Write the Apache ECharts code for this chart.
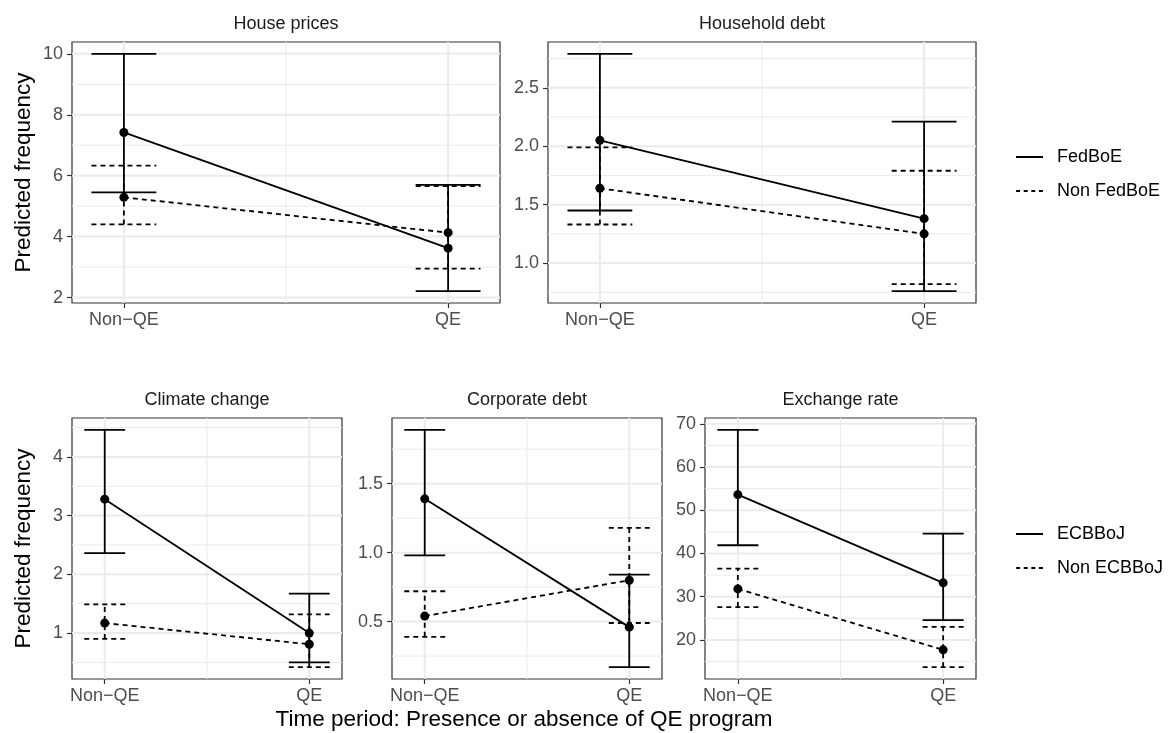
<!DOCTYPE html>
<html><head><meta charset="utf-8">
<script src="https://cdn.jsdelivr.net/npm/echarts@6/dist/echarts.min.js"></script>
<style>html,body{margin:0;padding:0;background:#fff}#c{width:1168px;height:733px}</style>
</head><body><div id="c"></div>
<script>
// ---- data ----
const periods = ['Non\u2212QE', 'QE'];
const periodPos = [1, 2];
const panelTitles = ['House prices', 'Household debt', 'Climate change', 'Corporate debt', 'Exchange rate'];
const topGroups = ['FedBoE', 'Non FedBoE'];
const bottomGroups = ['ECBBoJ', 'Non ECBBoJ'];

// each row: [estimate, lower, upper] for Non-QE then QE
const housePricesFed      = [[7.42, 5.45, 10.00], [3.62, 2.21, 5.70]];
const housePricesNonFed   = [[5.29, 4.40, 6.33],  [4.13, 2.95, 5.66]];
const householdDebtFed    = [[2.05, 1.45, 2.79],  [1.38, 0.76, 2.21]];
const householdDebtNonFed = [[1.64, 1.33, 1.99],  [1.25, 0.82, 1.79]];
const climateEcb          = [[3.28, 2.36, 4.46],  [1.00, 0.50, 1.67]];
const climateNonEcb       = [[1.17, 0.90, 1.49],  [0.81, 0.42, 1.32]];
const corporateEcb        = [[1.39, 0.98, 1.89],  [0.46, 0.17, 0.84]];
const corporateNonEcb     = [[0.54, 0.39, 0.72],  [0.80, 0.49, 1.18]];
const exchangeEcb         = [[53.6, 41.9, 68.6],  [33.2, 24.6, 44.6]];
const exchangeNonEcb      = [[31.8, 27.6, 36.5],  [17.7, 13.7, 23.0]];

const housePricesTicks   = [2, 4, 6, 8, 10];
const householdDebtTicks = [1.0, 1.5, 2.0, 2.5];
const climateTicks       = [1, 2, 3, 4];
const corporateTicks     = [0.5, 1.0, 1.5];
const exchangeTicks      = [20, 30, 40, 50, 60, 70];

// ---- layout / style ----
const FONT = '"Liberation Sans", Arial, Helvetica, sans-serif';
const rects = [
  {left: 72,  top: 42,  width: 428, height: 261},
  {left: 548, top: 42,  width: 428, height: 261},
  {left: 72,  top: 418, width: 270, height: 261},
  {left: 392, top: 418, width: 270, height: 261},
  {left: 705, top: 418, width: 271, height: 261}
];
const panels = [
  {groups: topGroups,    data: [housePricesFed, housePricesNonFed],     ticks: housePricesTicks,   dec: 0},
  {groups: topGroups,    data: [householdDebtFed, householdDebtNonFed], ticks: householdDebtTicks, dec: 1},
  {groups: bottomGroups, data: [climateEcb, climateNonEcb],             ticks: climateTicks,       dec: 0},
  {groups: bottomGroups, data: [corporateEcb, corporateNonEcb],         ticks: corporateTicks,     dec: 1},
  {groups: bottomGroups, data: [exchangeEcb, exchangeNonEcb],           ticks: exchangeTicks,      dec: 0}
];
const capHalf = 0.1;
const DASH = [5, 4];
const LW = 1.8;
const ICON_SOLID = 'path://M0,0H27V2H0Z';
const ICON_DASH = 'path://M0,0H4V2H0ZM7.6,0H11.6V2H7.6ZM15.2,0H19.2V2H15.2ZM22.8,0H26.8V2H22.8Z';

// x extent like ggplot: errorbar span expanded by 5%
const xLo = periodPos[0] - capHalf, xHi = periodPos[periodPos.length - 1] + capHalf;
const xMin = xLo - 0.05 * (xHi - xLo), xMax = xHi + 0.05 * (xHi - xLo);

function minorsFrom(ticks, lo, hi) {
  const step = ticks[1] - ticks[0];
  const out = [];
  const cand = [ticks[0] - step / 2].concat(ticks.map(t => t + step / 2));
  cand.forEach(v => { if (v > lo && v < hi) out.push(v); });
  return out;
}

const option = {
  animation: false,
  backgroundColor: '#ffffff',
  title: panelTitles.map((t, i) => ({
    text: t, left: rects[i].left + rects[i].width / 2, top: rects[i].top - 27,
    textAlign: 'center', padding: 0,
    textStyle: {fontSize: 18, fontWeight: 'normal', color: '#1A1A1A', fontFamily: FONT}
  })),
  legend: [
    {data: topGroups.map((n, k) => ({name: n, icon: k ? ICON_DASH : ICON_SOLID})), top: 148},
    {data: bottomGroups.map((n, k) => ({name: n, icon: k ? ICON_DASH : ICON_SOLID})), top: 525}
  ].map(l => Object.assign({
    orient: 'vertical', left: 1016, itemWidth: 27, itemHeight: 2, itemGap: 16,
    selectedMode: false, padding: 0,
    itemStyle: {color: '#000', borderWidth: 0},
    textStyle: {fontSize: 18, color: '#000', fontFamily: FONT, padding: [0, 0, 0, 9]}
  }, l)),
  grid: rects.map(r => Object.assign({show: true, borderColor: '#333333', borderWidth: 1.2,
    backgroundColor: '#ffffff', containLabel: false, outerBoundsMode: 'none'}, r)),
  xAxis: [], yAxis: [], series: [],
  graphic: [{
    type: 'text', x: (rects[2].left + rects[4].left + rects[4].width) / 2, y: 720,
    style: {text: 'Time period: Presence or absence of QE program', fontSize: 22.5,
      fontFamily: FONT, fill: '#000', textAlign: 'center', textVerticalAlign: 'middle'}
  }]
};

panels.forEach((p, i) => {
  let lo = Infinity, hi = -Infinity;
  p.data.forEach(g => g.forEach(d => { lo = Math.min(lo, d[1]); hi = Math.max(hi, d[2]); }));
  const yMin = lo - 0.05 * (hi - lo), yMax = hi + 0.05 * (hi - lo);
  const yMinor = minorsFrom(p.ticks, yMin, yMax);
  const xMinor = [(periodPos[0] + periodPos[1]) / 2];

  option.xAxis.push({
    gridIndex: i, type: 'value', min: xMin, max: xMax,
    axisLine: {show: false},
    axisTick: {show: true, length: 5, lineStyle: {color: '#333333', width: 1.2}, customValues: periodPos},
    axisLabel: {customValues: periodPos, formatter: v => periods[periodPos.indexOf(Math.round(v))],
      fontSize: 18, color: '#4D4D4D', fontFamily: FONT, margin: 8},
    splitLine: {show: false}
  });
  option.yAxis.push({
    gridIndex: i, type: 'value', min: yMin, max: yMax,
    name: (i === 0 || i === 2) ? 'Predicted frequency' : '',
    nameLocation: 'middle', nameGap: 37,
    nameTextStyle: {fontSize: 22.5, color: '#000', fontFamily: FONT},
    axisLine: {show: false},
    axisTick: {show: true, length: 5, lineStyle: {color: '#333333', width: 1.2}, customValues: p.ticks},
    axisLabel: {customValues: p.ticks, formatter: v => Number(v).toFixed(p.dec),
      fontSize: 18, color: '#4D4D4D', fontFamily: FONT, margin: 9},
    splitLine: {show: false}
  });

  // gridlines (major + minor) through the axis scales
  const gridData = p.ticks.map(v => [v, 0, 0])
    .concat(yMinor.map(v => [v, 1, 0]))
    .concat(periodPos.map(v => [v, 0, 1]))
    .concat(xMinor.map(v => [v, 1, 1]));
  option.series.push({
    type: 'custom', xAxisIndex: i, yAxisIndex: i, silent: true, z: 1,
    data: gridData, encode: {x: 0},
    renderItem: (params, api) => {
      const cs = params.coordSys;
      const v = api.value(0), minor = api.value(1), vert = api.value(2);
      let shape;
      if (vert) {
        const px = api.coord([v, yMin])[0];
        shape = {x1: px, y1: cs.y, x2: px, y2: cs.y + cs.height};
      } else {
        const py = api.coord([xMin, v])[1];
        shape = {x1: cs.x, y1: py, x2: cs.x + cs.width, y2: py};
      }
      return {type: 'line', shape, style: {stroke: '#EBEBEB', lineWidth: minor ? 1 : 2, fill: null}};
    }
  });

  // error bars
  const ebData = [];
  p.data.forEach((g, gi) => g.forEach((d, pi) => ebData.push([periodPos[pi], d[1], d[2], gi])));
  option.series.push({
    type: 'custom', xAxisIndex: i, yAxisIndex: i, silent: true, z: 2,
    data: ebData, encode: {x: 0, y: [1, 2]},
    renderItem: (params, api) => {
      const x = api.value(0), l = api.value(1), h = api.value(2), g = api.value(3);
      const pl = api.coord([x, l]), ph = api.coord([x, h]);
      const xl = api.coord([x - capHalf, l])[0], xr = api.coord([x + capHalf, l])[0];
      const style = {stroke: '#000', lineWidth: LW, fill: null, lineDash: g ? DASH : null};
      return {type: 'group', children: [
        {type: 'line', shape: {x1: pl[0], y1: pl[1], x2: ph[0], y2: ph[1]}, style},
        {type: 'line', shape: {x1: xl, y1: pl[1], x2: xr, y2: pl[1]}, style},
        {type: 'line', shape: {x1: xl, y1: ph[1], x2: xr, y2: ph[1]}, style}
      ]};
    }
  });

  // connecting lines and points
  p.data.forEach((g, gi) => {
    option.series.push({
      type: 'line', name: p.groups[gi], xAxisIndex: i, yAxisIndex: i, z: 3,
      data: g.map((d, pi) => [periodPos[pi], d[0]]),
      symbol: 'none', silent: true,
      itemStyle: {color: '#000'},
      lineStyle: {color: '#000', width: LW, type: gi ? DASH : 'solid'}
    });
    option.series.push({
      type: 'scatter', name: p.groups[gi] + ' point', xAxisIndex: i, yAxisIndex: i, z: 4,
      data: g.map((d, pi) => [periodPos[pi], d[0]]),
      symbol: 'circle', symbolSize: 9, silent: true,
      itemStyle: {color: '#000', opacity: 1}
    });
  });
});

const chart = echarts.init(document.getElementById('c'));
chart.setOption(option);
</script>
</body></html>
